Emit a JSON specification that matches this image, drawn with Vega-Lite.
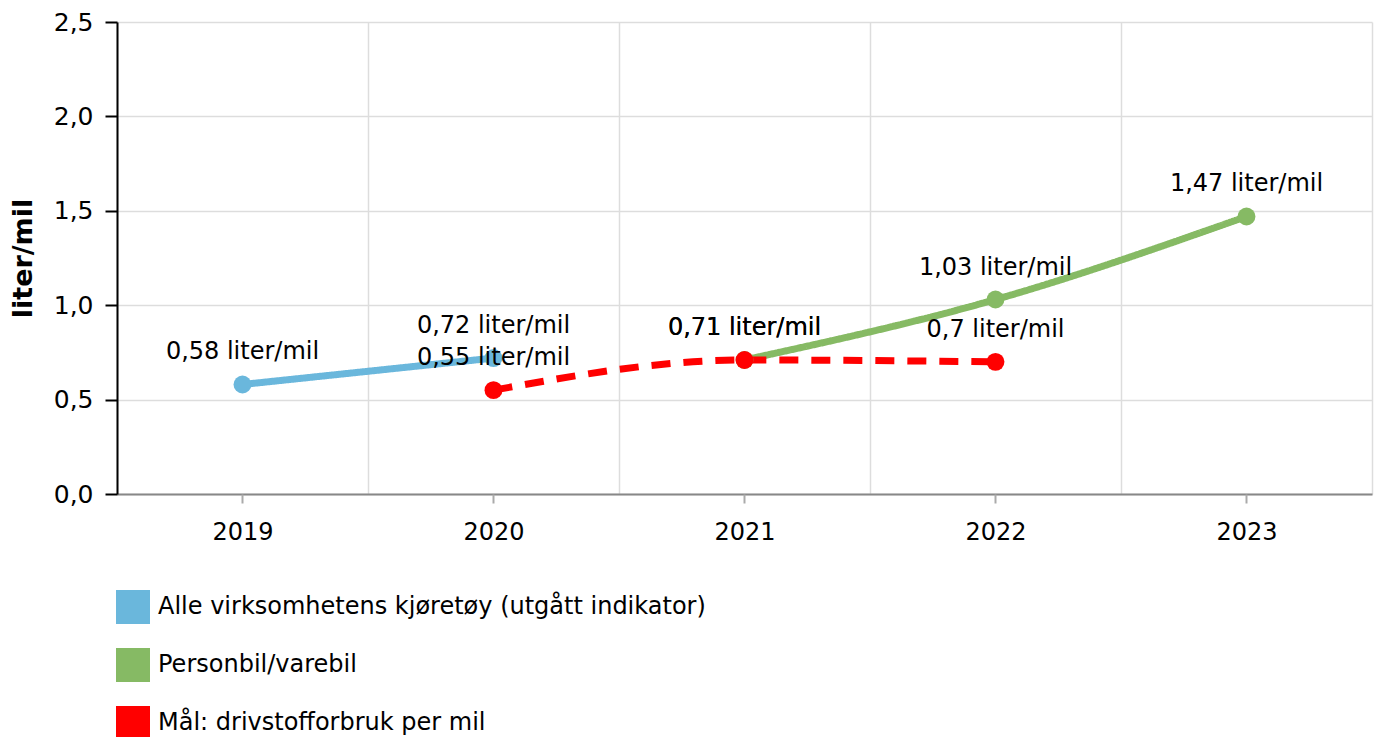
{
  "$schema": "https://vega.github.io/schema/vega-lite/v6.json",
  "width": 1255,
  "height": 472,
  "autosize": {"type": "none"},
  "padding": {"left": 117, "top": 22, "right": 5, "bottom": 243},
  "background": "white",
  "config": {
    "font": "DejaVu Sans",
    "view": {"stroke": null},
    "locale": {"number": {"decimal": ",", "thousands": " ", "grouping": [3], "currency": ["", " kr"]}}
  },
  "data": {
    "values": [
      {"year": "2019", "series": "Alle virksomhetens kjøretøy (utgått indikator)", "value": 0.58},
      {"year": "2020", "series": "Alle virksomhetens kjøretøy (utgått indikator)", "value": 0.72},
      {"year": "2021", "series": "Personbil/varebil", "value": 0.71},
      {"year": "2022", "series": "Personbil/varebil", "value": 1.03},
      {"year": "2023", "series": "Personbil/varebil", "value": 1.47},
      {"year": "2020", "series": "Mål: drivstofforbruk per mil", "value": 0.55},
      {"year": "2021", "series": "Mål: drivstofforbruk per mil", "value": 0.71},
      {"year": "2022", "series": "Mål: drivstofforbruk per mil", "value": 0.7}
    ]
  },
  "transform": [
    {"calculate": "replace(format(datum.value, '.2~f'), '.', ',') + ' liter/mil'", "as": "label"}
  ],
  "layer": [
    {
      "mark": {"type": "line", "strokeWidth": 7, "interpolate": "monotone"},
      "encoding": {
        "x": {
          "field": "year", "type": "ordinal", "bandPosition": 0.5,
          "scale": {"type": "band", "paddingInner": 0, "paddingOuter": 0, "domain": ["2019", "2020", "2021", "2022", "2023"]},
          "axis": {
            "title": null, "tickBand": "extent", "ticks": false, "grid": true,
            "gridColor": "#dddddd", "gridWidth": 1.5,
            "domainColor": "#888888", "domainWidth": 2,
            "labelAngle": 0, "labelFontSize": 24, "labelColor": "#000000", "labelPadding": 26
          }
        },
        "y": {
          "field": "value", "type": "quantitative",
          "scale": {"domain": [0, 2.5], "nice": false, "zero": true},
          "axis": {
            "title": "liter/mil", "titleFontSize": 27, "titleFontWeight": "bold", "titleColor": "#000000", "titlePadding": 16,
            "values": [0, 0.5, 1, 1.5, 2, 2.5], "format": ".1f",
            "labelFontSize": 25, "labelColor": "#000000", "labelPadding": 12,
            "domainColor": "#000000", "domainWidth": 2,
            "tickColor": "#000000", "tickSize": 12, "tickWidth": 2,
            "gridColor": "#dddddd", "gridWidth": 1.5
          }
        },
        "color": {
          "field": "series", "type": "nominal", "legend": null,
          "scale": {
            "domain": ["Alle virksomhetens kjøretøy (utgått indikator)", "Personbil/varebil", "Mål: drivstofforbruk per mil"],
            "range": ["#6ab7dc", "#86ba64", "#ff0000"]
          }
        },
        "strokeDash": {
          "field": "series", "type": "nominal", "legend": null,
          "scale": {
            "domain": ["Alle virksomhetens kjøretøy (utgått indikator)", "Personbil/varebil", "Mål: drivstofforbruk per mil"],
            "range": [[1, 0], [1, 0], [19, 13]]
          }
        }
      }
    },
    {
      "mark": {"type": "point", "filled": true, "opacity": 1, "size": 320},
      "encoding": {
        "x": {
          "field": "year", "type": "ordinal", "bandPosition": 0.5,
          "axis": {
            "title": null, "orient": "bottom", "domain": false, "labels": false, "grid": false,
            "ticks": true, "tickColor": "#aaaaaa", "tickSize": 9, "tickWidth": 2
          }
        },
        "y": {"field": "value", "type": "quantitative"},
        "color": {
          "field": "series", "type": "nominal",
          "scale": {
            "domain": ["Alle virksomhetens kjøretøy (utgått indikator)", "Personbil/varebil", "Mål: drivstofforbruk per mil"],
            "range": ["#6ab7dc", "#86ba64", "#ff0000"]
          },
          "legend": {
            "title": null, "orient": "none", "legendX": -1, "legendY": 568, "direction": "vertical",
            "symbolType": "square", "symbolSize": 1156, "symbolStrokeWidth": 0, "symbolOpacity": 1,
            "labelFontSize": 24, "labelColor": "#000000", "labelOffset": 8, "labelLimit": 1000,
            "rowPadding": 24
          }
        }
      }
    },
    {
      "mark": {"type": "text", "dy": -32, "baseline": "middle", "align": "center", "fontSize": 24, "color": "#000000"},
      "encoding": {
        "x": {"field": "year", "type": "ordinal", "bandPosition": 0.5, "axis": null},
        "y": {"field": "value", "type": "quantitative"},
        "text": {"field": "label", "type": "nominal"}
      }
    }
  ],
  "resolve": {"axis": {"x": "independent"}, "scale": {"color": "independent"}}
}
